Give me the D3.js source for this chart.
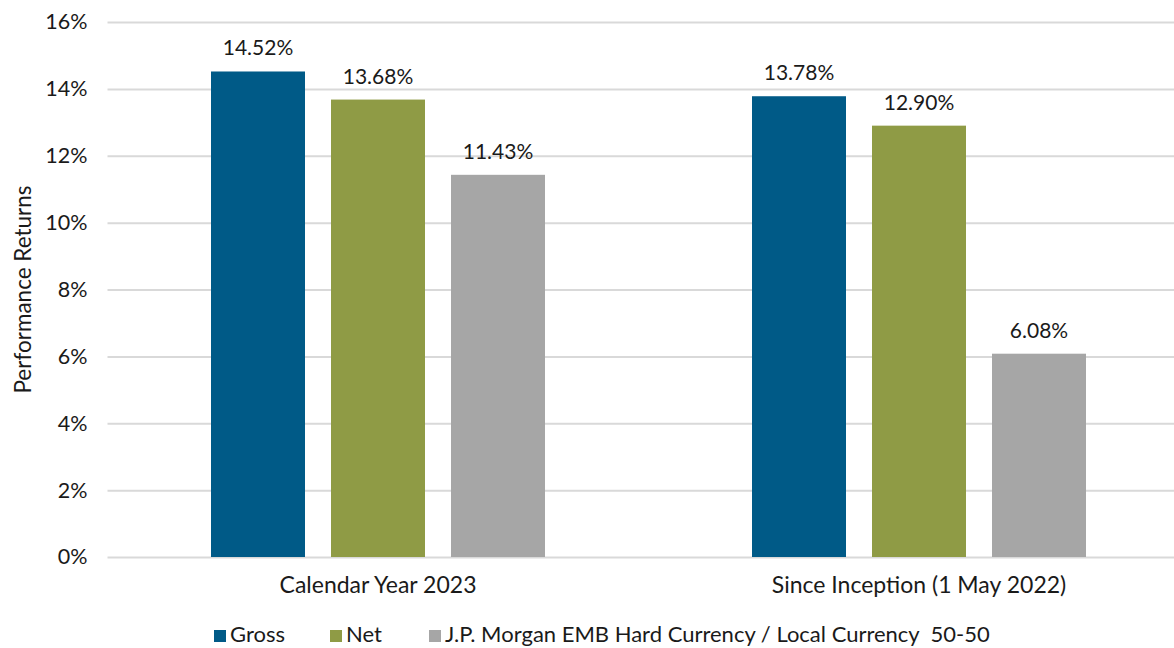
<!DOCTYPE html>
<html>
<head>
<meta charset="utf-8">
<script src="https://cdn.jsdelivr.net/npm/d3@7"></script>
<style>
  body { margin:0; background:#fff; }
  svg { display:block; font-family: Lato, "Open Sans", sans-serif; }
</style>
</head>
<body>
<svg id="chart" width="1174" height="648"></svg>
<script>
// data
var categories=['Calendar Year 2023','Since Inception (1 May 2022)'];
var seriesNames=['Gross','Net','J.P. Morgan EMB Hard Currency / Local Currency  50-50'];
var grossValues=[14.52,13.78];
var netValues=[13.68,12.90];
var benchValues=[11.43,6.08];
var yTicks=[0,2,4,6,8,10,12,14,16];
var colors=['#005a87','#8f9b45','#a6a6a6'];

var allSeries=[grossValues,netValues,benchValues];

var svg=d3.select('#chart');
var plotTop=22, plotBottom=557, plotLeft=107.5, plotRight=1189.5;

var x0=d3.scaleBand().domain(categories).range([plotLeft,plotRight]).padding(0);
var x1=d3.scaleBand().domain(d3.range(seriesNames.length))
    .range([103.5,x0.bandwidth()-103.5]).paddingInner(0.2167).paddingOuter(0);
var y=d3.scaleLinear().domain([0,16]).range([plotBottom,plotTop]);

// gridlines + tick labels
var yAxis=d3.axisLeft(y).tickValues(yTicks).tickSize(-(plotRight-plotLeft)).tickFormat(function(d){return d+'%';}).tickPadding(20);
var ga=svg.append('g').attr('transform','translate('+plotLeft+',0)').call(yAxis);
ga.select('.domain').remove();
ga.selectAll('.tick line').attr('stroke','#d9d9d9').attr('stroke-width',2);
ga.selectAll('.tick text').attr('font-size','21.5px').attr('fill','#1a1a1a').attr('font-family','Lato, sans-serif');

// y title
svg.append('text')
    .attr('transform','translate(31,'+((plotTop+plotBottom)/2)+') rotate(-90)')
    .attr('text-anchor','middle')
    .attr('font-size','22.5px')
    .attr('fill','#1a1a1a')
    .text('Performance Returns');

// bars
var groups=svg.selectAll('g.grp').data(categories).enter().append('g')
    .attr('class','grp')
    .attr('transform',function(d){return 'translate('+x0(d)+',0)';});

groups.each(function(cat,ci) {
    var g=d3.select(this);
    for (var s=0; s<allSeries.length; s++) {
        var v=allSeries[s][ci];
        g.append('rect')
            .attr('x',x1(s))
            .attr('y',y(v))
            .attr('width',x1.bandwidth())
            .attr('height',y(0)-y(v))
            .attr('fill',colors[s]);
        g.append('text')
            .attr('x',x1(s)+x1.bandwidth()/2)
            .attr('y',y(v)-16)
            .attr('text-anchor','middle')
            .attr('font-size','21px')
            .attr('fill','#1a1a1a')
            .text(v.toFixed(2)+'%');
    }
    g.append('text')
        .attr('x',x0.bandwidth()/2)
        .attr('y',593)
        .attr('text-anchor','middle')
        .attr('font-size','23px')
        .attr('fill','#1a1a1a')
        .text(cat);
});

// legend
var legendX=[214,330,429];
var lg=svg.append('g');
for (var i=0; i<seriesNames.length; i++) {
    lg.append('rect')
        .attr('x',legendX[i]).attr('y',630)
        .attr('width',12).attr('height',12)
        .attr('fill',colors[i]);
    lg.append('text')
        .attr('x',legendX[i]+16).attr('y',642)
        .attr('font-size','22px')
        .attr('fill','#1a1a1a')
        .style('white-space','pre')
        .text(seriesNames[i]);
}
</script>
</body>
</html>
